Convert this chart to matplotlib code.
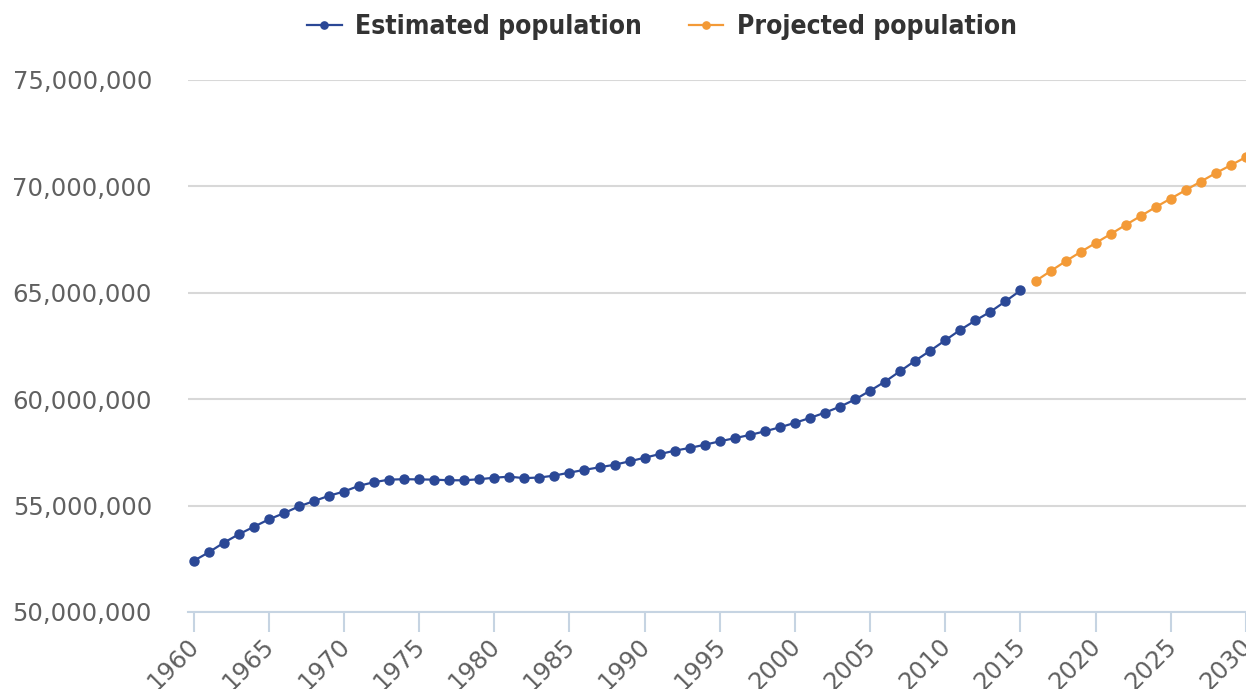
import matplotlib.pyplot as plt
from matplotlib.ticker import FuncFormatter

# population estimates and projections (millions)
years_est = list(range(1960, 2016))
pop_est = [52.40, 52.80, 53.25, 53.65, 54.00, 54.35, 54.64, 54.96, 55.21, 55.46,
           55.66, 55.93, 56.10, 56.22, 56.24, 56.23, 56.22, 56.19, 56.19, 56.24,
           56.31, 56.36, 56.29, 56.32, 56.41, 56.55, 56.68, 56.80, 56.92, 57.08,
           57.25, 57.42, 57.58, 57.71, 57.86, 58.02, 58.17, 58.32, 58.49, 58.68,
           58.89, 59.12, 59.37, 59.65, 59.99, 60.40, 60.83, 61.32, 61.81, 62.28,
           62.77, 63.26, 63.70, 64.11, 64.60, 65.11]
years_proj = list(range(2016, 2031))
pop_proj = [65.55, 66.02, 66.48, 66.92, 67.34, 67.76, 68.19, 68.61, 69.03, 69.43,
            69.83, 70.23, 70.63, 71.00, 71.38]

blue = '#2b4896'
orange = '#f39a37'

fig = plt.figure(figsize=(12.46, 6.89), dpi=100)
ax = fig.add_axes([188 / 1246, 77 / 689, 1 - 188 / 1246, 532 / 689])

ax.plot(years_est, [p * 1e6 for p in pop_est], color=blue, lw=1.6, marker='o',
        ms=6.5, label='Estimated population', clip_on=False, zorder=3)
ax.plot(years_proj, [p * 1e6 for p in pop_proj], color=orange, lw=1.6, marker='o',
        ms=6.5, label='Projected population', zorder=3)

ax.set_xlim(1959.63, 2030.0)
ax.set_ylim(50e6, 75e6)
ax.set_yticks([50e6, 55e6, 60e6, 65e6, 70e6, 75e6])
ax.yaxis.set_major_formatter(FuncFormatter(lambda v, p: f'{int(v):,}'))
ax.set_xticks(list(range(1960, 2031, 5)))

ax.grid(axis='y', color='#d8d8d8', lw=1.5)
ax.set_axisbelow(True)
for s in ['top', 'right', 'left']:
    ax.spines[s].set_visible(False)
ax.spines['bottom'].set_color('#c6d4e2')
ax.spines['bottom'].set_linewidth(1.5)

ax.tick_params(axis='y', length=0, pad=26, labelsize=17.5, labelcolor='#606060')
ax.tick_params(axis='x', length=14.4, width=1.5, color='#c6d4e2', pad=6,
               labelsize=17.5, labelcolor='#606060')
for lab in ax.get_xticklabels():
    lab.set_rotation(45)
    lab.set_ha('right')
    lab.set_va('center_baseline')
    lab.set_rotation_mode('anchor')

leg = fig.legend(loc='center', bbox_to_anchor=(662 / 1246, 1 - 27 / 689), ncol=2,
                 frameon=False, handlelength=1.3, markerscale=0.8, columnspacing=1.8,
                 handletextpad=0.5,
                 prop={'family': 'DejaVu Sans', 'stretch': 'condensed',
                       'weight': 'bold', 'size': 19})
for t in leg.get_texts():
    t.set_color('#333333')

fig.savefig('out.png', dpi=100)
